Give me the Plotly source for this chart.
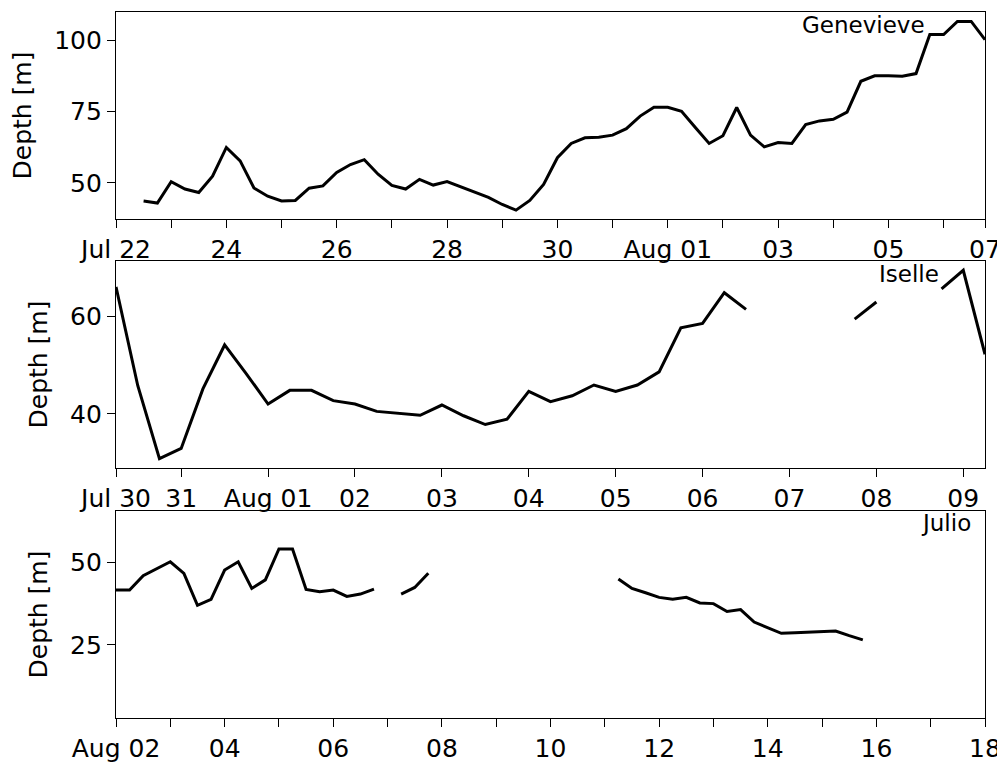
import pandas as pd
import plotly.graph_objects as go

# ---------------- data (6-hourly depth, metres) ----------------
genevieve_start = "2014-07-22 12:00"
genevieve_depth = [
    43.6, 42.9, 50.4, 47.8, 46.6, 52.3, 62.4, 57.7, 48.2, 45.3,
    43.6, 43.8, 48.1, 48.9, 53.6, 56.4, 58.1, 53.0, 49.1, 47.8,
    51.2, 49.2, 50.4, 48.5, 46.6, 44.9, 42.4, 40.4, 43.8, 49.4,
    58.8, 63.8, 65.8, 66.0, 66.7, 69.0, 73.4, 76.5, 76.5, 75.1,
    69.4, 63.8, 66.5, 76.4, 66.7, 62.6, 64.1, 63.8, 70.4, 71.7,
    72.3, 74.8, 85.6, 87.5, 87.5, 87.4, 88.3, 102.0, 102.0, 106.6,
    106.6, 100.2,
]

iselle_start = "2014-07-30 06:00"
iselle_depth = [
    66.0, 45.8, 30.8, 32.9, 45.1, 54.1, 48.2, 42.0, 44.8, 44.8,
    42.7, 42.0, 40.5, 40.1, 39.7, 41.8, 39.6, 37.8, 38.9, 44.6,
    42.5, 43.7, 45.9, 44.6, 45.9, 48.6, 57.6, 58.5, 64.8, 61.4,
    None, None, None, None, 59.4, 62.9, None, None, 65.6, 69.4,
    52.2,
]

julio_start = "2014-08-02 00:00"
julio_depth = [
    41.6, 41.6, 46.0, 48.2, 50.2, 46.7, 37.0, 38.8, 47.7, 50.2,
    42.1, 44.7, 54.1, 54.1, 41.8, 41.1, 41.6, 39.7, 40.4, 41.9,
    None, 40.4, 42.4, 46.7, None, None, None, None, None, None,
    None, None, None, None, None, None, None, 45.0, 42.1, 40.8,
    39.4, 38.8, 39.4, 37.7, 37.5, 35.1, 35.7, 31.9, 30.2, 28.5,
    28.7, 28.8, 28.9, 29.2, 27.8, 26.5,
]

storm_names = ["Genevieve", "Iselle", "Julio"]

# axis ranges / tick labels
x_ranges = [
    ["2014-07-22 00:00", "2014-08-06 18:00"],
    ["2014-07-30 06:00", "2014-08-09 06:00"],
    ["2014-08-02 00:00", "2014-08-18 00:00"],
]
y_ranges = [[37.3, 109.9], [28.9, 71.3], [2.8, 65.6]]
y_ticks = [[50, 75, 100], [40, 60], [25, 50]]

gen_tickvals = ["2014-07-22", "2014-07-23", "2014-07-24", "2014-07-25", "2014-07-26",
                "2014-07-27", "2014-07-28", "2014-07-29", "2014-07-30", "2014-07-31",
                "2014-08-01", "2014-08-02", "2014-08-03", "2014-08-04", "2014-08-05",
                "2014-08-06", "2014-08-06 18:00"]
gen_ticktext = ["Jul 22", "", "24", "", "26", "", "28", "", "30", "",
                "Aug 01", "", "03", "", "05", "", "07"]

ise_tickvals = ["2014-07-30 06:00", "2014-07-31", "2014-08-01", "2014-08-02", "2014-08-03",
                "2014-08-04", "2014-08-05", "2014-08-06", "2014-08-07", "2014-08-08",
                "2014-08-09"]
ise_ticktext = ["Jul 30", "31", "Aug 01", "02", "03", "04", "05", "06", "07", "08", "09"]

jul_tickvals = ["2014-08-%02d" % d for d in range(2, 19)]
jul_ticktext = ["Aug 02", "", "04", "", "06", "", "08", "", "10", "",
                "12", "", "14", "", "16", "", "18"]

tickvals = [gen_tickvals, ise_tickvals, jul_tickvals]
ticktexts = [gen_ticktext, ise_ticktext, jul_ticktext]

series = [
    (genevieve_start, genevieve_depth),
    (iselle_start, iselle_depth),
    (julio_start, julio_depth),
]

# ---------------- figure ----------------
FONT = "DejaVu Sans"
TICK_SIZE = 25
OFF = 8                      # default page body margin
W, H = 1005 - OFF, 765 - OFF
x0, x1 = (116 - OFF) / W, (985 - OFF) / W
panel_px = [(12, 219), (261, 468), (511, 718)]

fig = go.Figure()
layout = dict(
    width=W, height=H,
    margin=dict(l=0, r=0, t=0, b=0),
    paper_bgcolor="white", plot_bgcolor="white",
    showlegend=False,
    font=dict(family=FONT, size=TICK_SIZE, color="black"),
)

annotations = []
label_pos = [(927, 25), (941, 274), (973, 523)]

for i, (start, depth) in enumerate(series):
    n = i + 1
    times = pd.date_range(start, periods=len(depth), freq="6h")
    fig.add_trace(go.Scatter(
        x=times, y=depth, mode="lines",
        line=dict(color="black", width=3),
        connectgaps=False,
        xaxis="x" if n == 1 else f"x{n}",
        yaxis="y" if n == 1 else f"y{n}",
        hoverinfo="skip",
    ))
    top, bot = panel_px[i]
    xa = dict(
        type="date",
        domain=[x0, x1],
        range=x_ranges[i],
        anchor="y" if n == 1 else f"y{n}",
        automargin=False,
        tickmode="array", tickvals=tickvals[i], ticktext=ticktexts[i],
        ticks="outside", ticklen=8, tickwidth=1.3, tickcolor="black",
        tickfont=dict(family=FONT, size=TICK_SIZE, color="black"),
        showline=True, linecolor="black", linewidth=1.3, mirror=True,
        showgrid=False, zeroline=False,
    )
    ya = dict(
        domain=[1 - (bot - OFF) / H, 1 - (top - OFF) / H],
        range=y_ranges[i],
        anchor="x" if n == 1 else f"x{n}",
        automargin=False,
        tickmode="array", tickvals=y_ticks[i],
        ticks="outside", ticklen=8, tickwidth=1.3, tickcolor="black",
        tickfont=dict(family=FONT, size=TICK_SIZE, color="black"),
        showline=True, linecolor="black", linewidth=1.3, mirror=True,
        showgrid=False, zeroline=False,
        title=dict(text="Depth [m]", font=dict(family=FONT, size=TICK_SIZE, color="black"),
                   standoff=15),
    )
    layout["xaxis" if n == 1 else f"xaxis{n}"] = xa
    layout["yaxis" if n == 1 else f"yaxis{n}"] = ya
    lx, ly = label_pos[i]
    annotations.append(dict(
        text=storm_names[i], xref="paper", yref="paper",
        x=(lx - OFF) / W, y=1 - (ly - OFF) / H, xanchor="right", yanchor="middle",
        showarrow=False, font=dict(family=FONT, size=23, color="black"),
    ))

layout["annotations"] = annotations
fig.update_layout(**layout)
fig.write_html("out.html")
